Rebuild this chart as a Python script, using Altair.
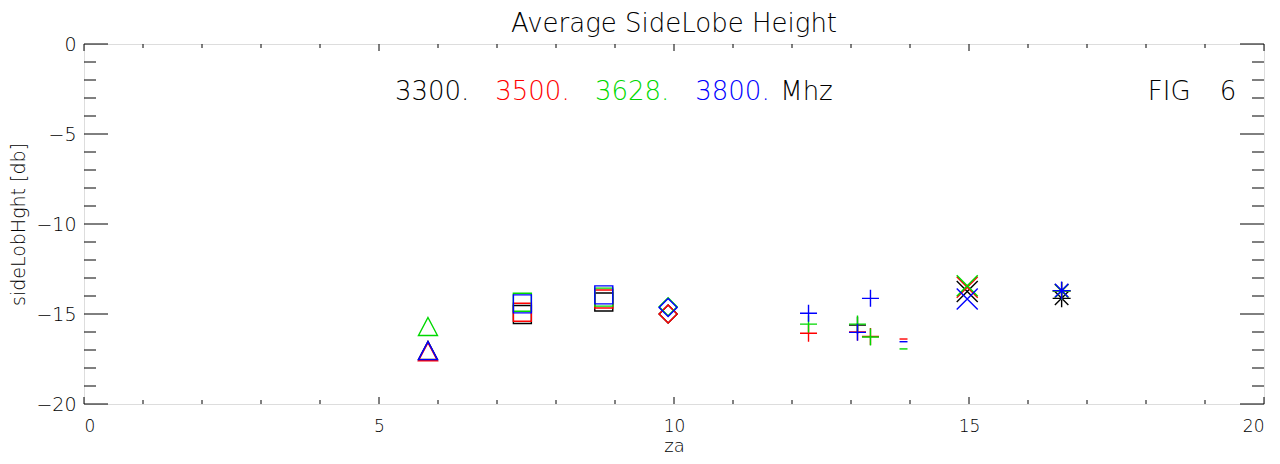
import altair as alt
import pandas as pd

# ---- data ----
za = [5.83, 7.43, 8.81, 9.90, 12.28, 13.11, 13.33, 13.89, 14.97, 16.57]
symbol = ["triangle", "square", "square", "diamond", "plus", "plus", "plus", "dash", "x", "asterisk"]
freqs = ["3300.", "3500.", "3628.", "3800."]
sl_3300 = [-17.05, -15.03, -14.33, -15.0, None, -15.62, None, None, -13.75, -14.13]
sl_3500 = [-17.12, -14.9, -14.17, -15.0, -16.07, -16.0, -16.25, -16.39, -13.52, -13.72]
sl_3628 = [-15.72, -14.35, -14.06, -14.6, -15.56, -15.56, -16.28, -16.94, -13.43, -13.72]
sl_3800 = [-17.06, -14.44, -13.94, -14.64, -14.96, -16.02, -14.13, -16.54, -14.17, -13.70]
series = [sl_3300, sl_3500, sl_3628, sl_3800]

colors = ["#000000", "#FF0000", "#00D800", "#0000FF"]

label_x = [5.27, 6.97, 8.66, 10.36, 11.8, 18.03, 19.25]
label_txt = ["3300.", "3500.", "3628.", "3800.", "Mhz", "FIG", "6"]
label_col = ["#000000", "#FF0000", "#00D800", "#0000FF", "#000000", "#000000", "#000000"]
label_y = -2.67

x_major = [0, 5, 10, 15, 20]
x_minor = [v for v in range(0, 21) if v % 5 != 0]
y_major = [0, -5, -10, -15, -20]
y_minor = [v for v in range(-20, 1) if v % 5 != 0]

# ---- styling ----
paths = {
    "triangle": "M0,-1L1,0.9L-1,0.9Z",
    "square": "M-1,-1L1,-1L1,1L-1,1Z",
    "diamond": "M0,-1L1,0L0,1L-1,0Z",
    "plus": "M-1,0L1,0M0,-1L0,1",
    "dash": "M-1,0L1,0",
    "x": "M-1,-1L1,1M-1,1L1,-1",
    "asterisk": "M-1,0L1,0M0,-1L0,1M-0.75,-0.75L0.75,0.75M-0.75,0.75L0.75,-0.75",
}
sizes = {"triangle": 361, "square": 324, "diamond": 324, "plus": 289,
         "dash": 64, "x": 441, "asterisk": 324}

rows = []
for fi, (f, vals) in enumerate(zip(freqs, series)):
    for z, s, v in zip(za, symbol, vals):
        if v is None:
            continue
        rows.append({"za": z, "val": v, "freq": f, "sym": s, "size": sizes[s], "order": fi})
df = pd.DataFrame(rows)

W, H = 1180, 360
FONT = "DejaVu Sans"
FW = 200

xscale = alt.Scale(domain=[0, 20], nice=False)
yscale = alt.Scale(domain=[-20, 0], nice=False)

points = alt.Chart(df).mark_point(filled=False, strokeWidth=1.4, opacity=1).encode(
    x=alt.X("za:Q", scale=xscale, title="za",
            axis=alt.Axis(values=x_major, format="d", ticks=False, domain=False, grid=False,
                          labelFontSize=17, labelPadding=14, titleFontSize=18,
                          titleFontWeight=FW, labelFontWeight=FW, titlePadding=3,
                          labelColor="#000", titleColor="#000", labelFont=FONT, titleFont=FONT)),
    y=alt.Y("val:Q", scale=yscale, title="sideLobHght [db]",
            axis=alt.Axis(values=y_major, format="d", ticks=False, domain=False, grid=False,
                          labelFontSize=19, labelPadding=8, titleFontSize=19,
                          titleFontWeight=FW, labelFontWeight=FW, titlePadding=7,
                          labelColor="#000", titleColor="#000", labelFont=FONT, titleFont=FONT)),
    color=alt.Color("freq:N", scale=alt.Scale(domain=freqs, range=colors), legend=None),
    shape=alt.Shape("sym:N", scale=alt.Scale(domain=list(paths.keys()), range=list(paths.values())), legend=None),
    size=alt.Size("size:Q", scale=None),
    order=alt.Order("order:Q"),
)

xmaj = pd.DataFrame({"v": x_major})
xmin = pd.DataFrame({"v": x_minor})
ymaj = pd.DataFrame({"v": y_major})
ymin = pd.DataFrame({"v": y_minor})

def xticks(d, y0, y1):
    return alt.Chart(d).mark_rule(color="#000", strokeWidth=1).encode(
        x=alt.X("v:Q", scale=xscale), y=alt.value(y0), y2=alt.value(y1))

def yticks(d, x0, x1):
    return alt.Chart(d).mark_rule(color="#000", strokeWidth=1).encode(
        y=alt.Y("v:Q", scale=yscale), x=alt.value(x0), x2=alt.value(x1))

ticks = [
    xticks(xmaj, H, H - 7), xticks(xmin, H, H - 4),
    xticks(xmaj, 0, 7), xticks(xmin, 0, 4),
    yticks(ymaj, 0, 24), yticks(ymin, 0, 12),
    yticks(ymaj, W, W - 24), yticks(ymin, W, W - 12),
]

labels = alt.Chart(pd.DataFrame({"x": label_x, "t": label_txt, "c": label_col, "y": [label_y] * len(label_x)})).mark_text(
    align="left", baseline="middle", fontSize=26, font=FONT, fontWeight=FW).encode(
    x=alt.X("x:Q", scale=xscale), y=alt.Y("y:Q", scale=yscale),
    text="t:N", color=alt.Color("c:N", scale=None))

chart = alt.layer(*ticks, points, labels).properties(
    width=W, height=H,
    title=alt.TitleParams("Average SideLobe Height", fontSize=26, fontWeight=FW,
                          font=FONT, color="#000", offset=-2, frame="group"),
    autosize=alt.AutoSizeParams(type="none"),
    padding={"left": 76, "top": 36, "right": 6, "bottom": 52},
).configure_view(stroke="#000", strokeWidth=1.6).configure(background="white")

chart.save("out.html", embed_options={"renderer": "svg", "actions": False})
